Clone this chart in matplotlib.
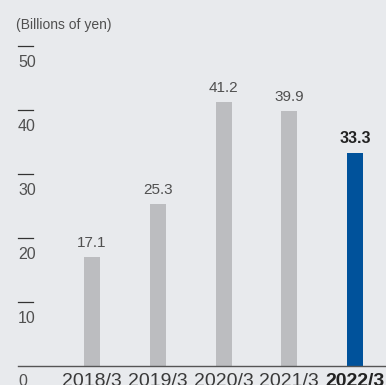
import matplotlib
matplotlib.use('Agg')
import matplotlib.pyplot as plt
import matplotlib.transforms as mtransforms

plt.rcParams['font.family'] = ['Liberation Sans', 'DejaVu Sans']

# ── data ──────────────────────────────────────────
years  = ['2018/3', '2019/3', '2020/3', '2021/3', '2022/3']
values = [17.1, 25.3, 41.2, 39.9, 33.3]
yticks = [10, 20, 30, 40, 50]
unit_label = '(Billions of yen)'

# ── style ─────────────────────────────────────────
BG    = '#e8eaed'
GREY  = '#bcbdc0'
BLUE  = '#00529b'
TXT   = '#505050'
DARK  = '#222222'

W, H = 386, 385
fig = plt.figure(figsize=(W / 100, H / 100), dpi=100)
fig.patch.set_facecolor(BG)

# axes: left at axis line start, bottom at baseline
ax = fig.add_axes([18 / W, 19 / H, (W - 18) / W, 366 / H])
ax.set_facecolor(BG)

n = len(years)
xs = list(range(n))
colors = [GREY] * (n - 1) + [BLUE]
ax.bar(xs, values, width=0.245, color=colors, zorder=2)

ax.set_xlim(-1.126, 4.47)
ax.set_ylim(0, 57.19)

# bar value labels
for i, v in enumerate(values):
    last = i == n - 1
    ax.annotate(f'{v:.1f}', xy=(i, v), xytext=(0, 7), textcoords='offset pixels',
                ha='center', va='bottom', fontsize=11.5 if last else 11,
                fontweight='bold' if last else 'normal',
                color=DARK if last else TXT)

# spines
for s in ['top', 'right', 'left']:
    ax.spines[s].set_visible(False)
ax.spines['bottom'].set_color('#555555')
ax.spines['bottom'].set_linewidth(1.0)

# x tick labels
ax.set_xticks(xs)
ax.set_xticklabels(years, fontsize=14, color='#3a3a3a')
ax.get_xticklabels()[-1].set_fontweight('bold')
ax.get_xticklabels()[-1].set_color(DARK)
ax.tick_params(axis='x', length=0, pad=5)
ax.set_yticks([])

# y ticks: short dash with label below
trans = mtransforms.blended_transform_factory(ax.transAxes, ax.transData)
dash_w = 15 / (W - 18)
for t in yticks:
    ax.plot([0, dash_w], [t, t], color='#333333', lw=0.9, transform=trans,
            clip_on=False, zorder=3)
for t in [0] + yticks:
    ax.annotate(str(t), xy=(0, t), xycoords=trans, xytext=(0, -16),
                textcoords='offset pixels', ha='left', va='center',
                fontsize=11.5, color=TXT, annotation_clip=False)

fig.text(16 / W, 1 - 25 / H, unit_label, fontsize=10, color=TXT,
         ha='left', va='center')

fig.savefig('out.png', dpi=100, facecolor=fig.get_facecolor())
